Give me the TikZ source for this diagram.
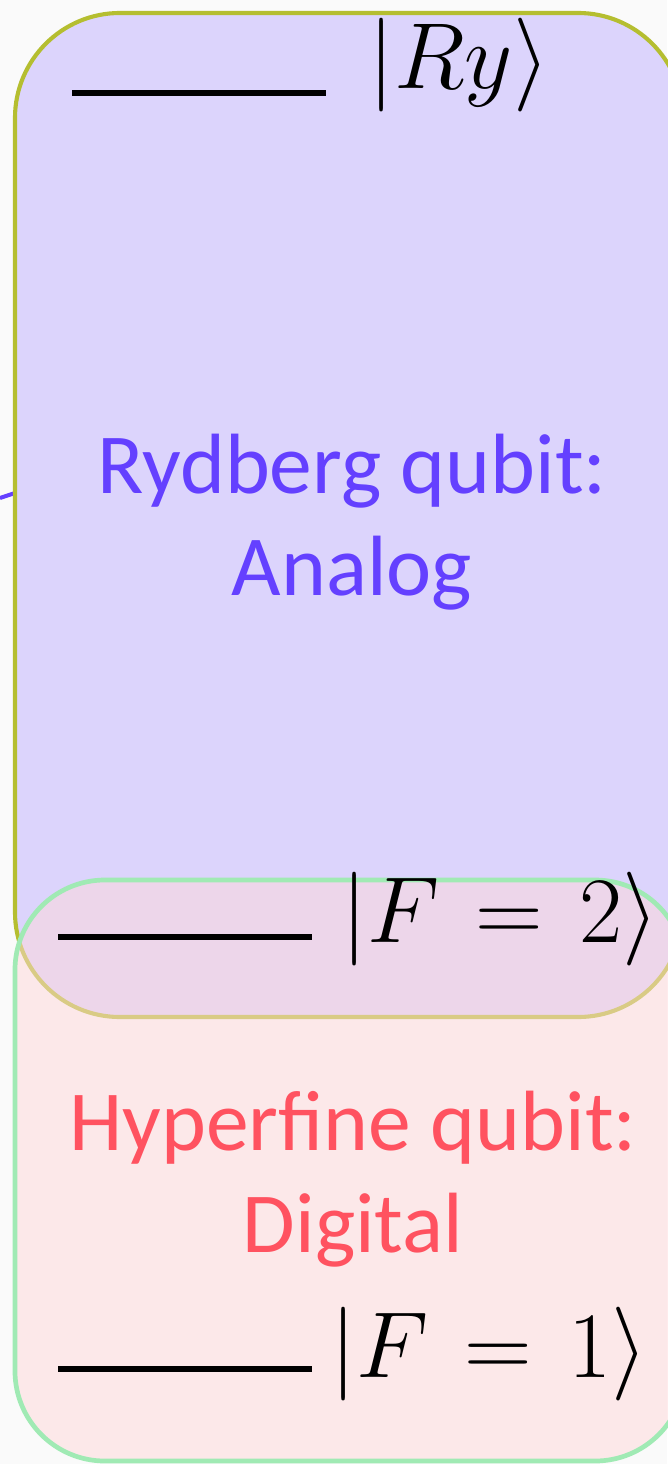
\RequirePackage{fix-cm}
\documentclass[tikz,border=0pt]{standalone}
\usepackage{fontspec}
\setmainfont{Carlito}
\definecolor{pagebg}{RGB}{250,250,250}
\definecolor{rydfill}{RGB}{220,212,252}
\definecolor{rydedge}{RGB}{181,190,48}
\definecolor{rydtext}{RGB}{100,64,255}
\definecolor{hypfill}{RGB}{254,216,218}
\definecolor{hypedge}{RGB}{160,234,180}
\definecolor{hyptext}{RGB}{255,82,96}
\begin{document}
\begin{tikzpicture}[x=0.03cm, y=0.03cm, every node/.style={font=\fontsize{73}{84}\selectfont},
  ket/.style={inner sep=0pt, anchor=base west, font=\fontsize{80}{84}\selectfont},
  level/.style={line width=5pt, black}]
  \useasboundingbox[fill=pagebg] (0,0) rectangle (667,-1464);
  % Rydberg qubit box (runs past the right edge)
  \coordinate (stub) at (0,-498);
  \draw[line width=3.5pt, rydtext] (stub) -- (15,-493);
  \node[draw=rydedge, line width=3.5pt, fill=rydfill, rounded corners=3.15cm,
        minimum width=20.04cm, minimum height=30.12cm] (ryd) at (349,-515) {};
  \node[text=rydtext, anchor=base] (rydA) at (352,-493) {Rydberg qubit:};
  \node[text=rydtext, anchor=base] (rydB) at (352,-595) {Analog};
  \coordinate (ryL) at (72,-93);
  \coordinate (ryR) at (326,-93);
  \draw[level] (ryL) -- (ryR);
  \node[ket] (ry) at (368,-89) {$|Ry\rangle$};
  % Hyperfine qubit box, half see-through over the first one
  \node[draw=hypedge, line width=4pt, fill=hypfill, fill opacity=0.5, rounded corners=2.7cm,
        minimum width=20.1cm, minimum height=17.43cm] (hyp) at (350,-1170.5) {};
  \node[text=hyptext, anchor=base] (hypA) at (353,-1150) {Hyperfine qubit:};
  \node[text=hyptext, anchor=base] (hypB) at (353,-1252) {Digital};
  \coordinate (f2L) at (58,-937);
  \coordinate (f2R) at (312,-937);
  \draw[level] (f2L) -- (f2R);
  \node[ket] (ftwo) at (341,-942) {$|F\mkern2mu=\mkern2mu2\rangle$};
  \coordinate (f1L) at (58,-1369);
  \coordinate (f1R) at (312,-1369);
  \draw[level] (f1L) -- (f1R);
  \node[ket] (fone) at (330,-1377) {$|F\mkern2mu=\mkern2mu1\rangle$};
\end{tikzpicture}
\end{document}
